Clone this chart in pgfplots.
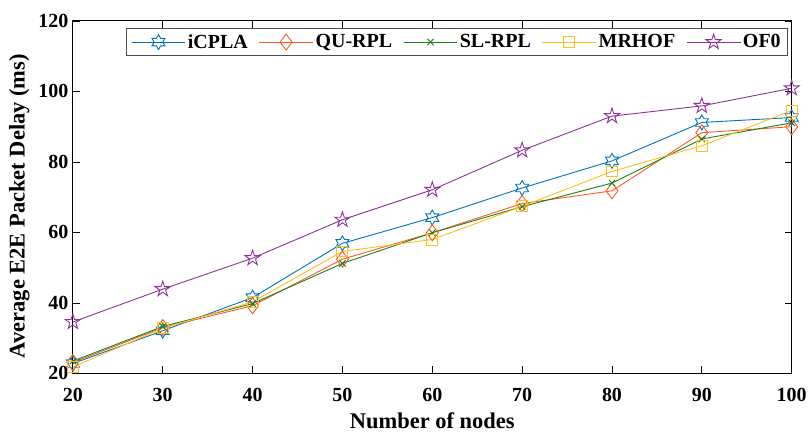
\documentclass[border=0pt]{standalone}
\usepackage{pgfplots}
\pgfplotsset{compat=1.18}
\usepackage{fontspec}
\setmainfont{Liberation Serif}
\definecolor{cA}{rgb}{0.0,0.447,0.741}
\definecolor{cB}{rgb}{1.0,0.35,0.15}
\definecolor{cC}{rgb}{0.1,0.5,0.1}
\definecolor{cD}{rgb}{1.0,0.75,0.1}
\definecolor{cE}{rgb}{0.55,0.2,0.6}
\pgfdeclareplotmark{pentagram}{%
  \pgfpathmoveto{\pgfpointpolar{90}{\pgfplotmarksize}}%
  \pgfpathlineto{\pgfpointpolar{126}{0.382*\pgfplotmarksize}}%
  \pgfpathlineto{\pgfpointpolar{162}{\pgfplotmarksize}}%
  \pgfpathlineto{\pgfpointpolar{198}{0.382*\pgfplotmarksize}}%
  \pgfpathlineto{\pgfpointpolar{234}{\pgfplotmarksize}}%
  \pgfpathlineto{\pgfpointpolar{270}{0.382*\pgfplotmarksize}}%
  \pgfpathlineto{\pgfpointpolar{306}{\pgfplotmarksize}}%
  \pgfpathlineto{\pgfpointpolar{342}{0.382*\pgfplotmarksize}}%
  \pgfpathlineto{\pgfpointpolar{18}{\pgfplotmarksize}}%
  \pgfpathlineto{\pgfpointpolar{54}{0.382*\pgfplotmarksize}}%
  \pgfpathclose\pgfusepathqstroke}
\pgfdeclareplotmark{hexagram}{%
  \pgfpathmoveto{\pgfpointpolar{90}{\pgfplotmarksize}}%
  \pgfpathlineto{\pgfpointpolar{120}{0.577*\pgfplotmarksize}}%
  \pgfpathlineto{\pgfpointpolar{150}{\pgfplotmarksize}}%
  \pgfpathlineto{\pgfpointpolar{180}{0.577*\pgfplotmarksize}}%
  \pgfpathlineto{\pgfpointpolar{210}{\pgfplotmarksize}}%
  \pgfpathlineto{\pgfpointpolar{240}{0.577*\pgfplotmarksize}}%
  \pgfpathlineto{\pgfpointpolar{270}{\pgfplotmarksize}}%
  \pgfpathlineto{\pgfpointpolar{300}{0.577*\pgfplotmarksize}}%
  \pgfpathlineto{\pgfpointpolar{330}{\pgfplotmarksize}}%
  \pgfpathlineto{\pgfpointpolar{0}{0.577*\pgfplotmarksize}}%
  \pgfpathlineto{\pgfpointpolar{30}{\pgfplotmarksize}}%
  \pgfpathlineto{\pgfpointpolar{60}{0.577*\pgfplotmarksize}}%
  \pgfpathclose\pgfusepathqstroke}
\begin{document}
\begin{tikzpicture}
\begin{axis}[
  scale only axis, width=720pt, height=353pt,
  xmin=20, xmax=100, ymin=20, ymax=120,
  xtick={20,30,...,100}, ytick={20,40,...,120},
  tick align=inside, tick style={black, line width=0.8pt},
  major tick length=7pt,
  axis line style={line width=1pt},
  tick label style={font=\fontsize{20}{22}\selectfont\bfseries},
  xticklabel style={yshift=-11pt},
  yticklabel style={xshift=-1pt},
  /pgf/number format/assume math mode=true,
  xlabel={Number of nodes}, ylabel={Average E2E Packet Delay (ms)},
  label style={font=\fontsize{22.5}{24}\selectfont\bfseries},
  xlabel style={yshift=-4pt}, ylabel style={yshift=2pt, xshift=-9pt},
  legend columns=5,
  legend style={at={(0.995,0.98)}, anchor=north east, draw=black!70, line width=0.8pt,
    font=\fontsize{20}{22}\selectfont\bfseries, inner xsep=5pt, inner ysep=4pt,
    /tikz/every even column/.append style={column sep=9pt}},
  legend image code/.code={\draw[mark repeat=2,mark phase=2] plot coordinates {(0pt,0pt) (27pt,0pt) (54pt,0pt)};},
  every axis plot/.append style={line width=0.9pt},
]
\addplot[cA, mark=hexagram, mark size=7.5pt] coordinates {(20,22.8) (30,32.1) (40,41.5) (50,56.9) (60,64.2) (70,72.6) (80,80.3) (90,91.2) (100,92.6)};
\addplot[cB, mark=diamond, mark size=8pt] coordinates {(20,23.1) (30,33.0) (40,39.2) (50,52.4) (60,59.9) (70,68.2) (80,71.8) (90,88.3) (100,90.0)};
\addplot[cC, mark=x, mark size=4.5pt] coordinates {(20,23.5) (30,33.3) (40,39.8) (50,51.2) (60,59.9) (70,67.3) (80,74.0) (90,86.5) (100,91.1)};
\addplot[cD, mark=square, mark size=5.5pt] coordinates {(20,21.8) (30,32.8) (40,40.3) (50,54.6) (60,58.0) (70,67.4) (80,77.3) (90,84.6) (100,94.6)};
\addplot[cE, mark=pentagram, mark size=8pt] coordinates {(20,34.6) (30,43.9) (40,52.7) (50,63.6) (60,72.1) (70,83.3) (80,93.0) (90,95.9) (100,100.9)};
\legend{iCPLA, QU-RPL, SL-RPL, MRHOF, OF0}
\end{axis}
\path (current axis.south west) ++(-73pt,-59pt) rectangle ++(810pt,433pt);
\end{tikzpicture}
\end{document}
